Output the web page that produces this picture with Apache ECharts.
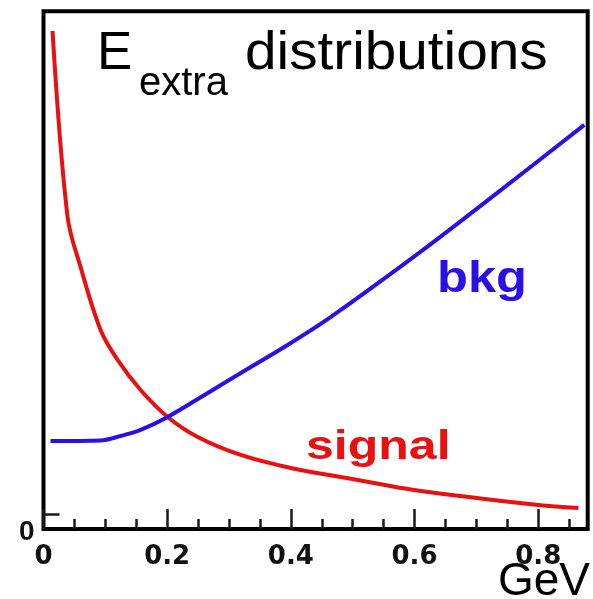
<!DOCTYPE html>
<html><head><meta charset="utf-8">
<script src="https://cdn.jsdelivr.net/npm/echarts@6/dist/echarts.min.js"></script>
<style>html,body{margin:0;padding:0;background:#fff}#c{width:593px;height:599px}</style>
</head><body><div id="c"></div>
<script>
// E_extra (GeV) vs arbitrary normalised yield
const signalX = [0.0146, 0.0389, 0.0599, 0.0923, 0.1198, 0.157, 0.2008, 0.2494, 0.319, 0.4, 0.5085, 0.599, 0.8, 0.865];
const signalY = [96.6, 59.4, 49.4, 36.8, 30.8, 24.8, 19.4, 15.4, 11.8, 9.2, 6.8, 4.8, 1.8, 1.2];
const bkgX = [0.0113, 0.0923, 0.1245, 0.157, 0.2008, 0.2656, 0.319, 0.4, 0.4648, 0.6138, 0.740, 0.8745];
const bkgY = [14.6, 14.7, 15.6, 16.8, 19.4, 24.2, 28.2, 34.2, 39.4, 52.8, 64.8, 77.8];
const xMajorTicks = [0, 0.2, 0.4, 0.6, 0.8];
const xMinorTicks = [0.05, 0.1, 0.15, 0.25, 0.3, 0.35, 0.45, 0.5, 0.55, 0.65, 0.7, 0.75, 0.85];
const yTicks = [0];

const chart = echarts.init(document.getElementById('c'), null, {renderer: 'canvas'});
const pairs = (xs, ys) => xs.map((x, i) => [x, ys[i]]);
const fam = '"Liberation Sans", Arial, sans-serif';

chart.setOption({
  animation: false,
  backgroundColor: '#fff',
  grid: {left: 43.5, right: 5.3, top: 11.3, bottom: 70, show: true,
         borderColor: '#000', borderWidth: 4, backgroundColor: 'transparent'},
  xAxis: [{
    type: 'value', min: 0, max: 0.88, position: 'bottom', offset: 0,
    axisLine: {show: false, onZero: false}, splitLine: {show: false},
    axisTick: {show: true, inside: true, length: 20, customValues: xMajorTicks,
               lineStyle: {color: '#1a1a1a', width: 2.5}},
    axisLabel: {show: true, customValues: xMajorTicks, margin: 15, verticalAlign: 'top',
                fontFamily: '"DejaVu Sans", sans-serif', fontWeight: 'bold', fontSize: 26, color: '#111',
                formatter: v => String(v)}
  }, {
    type: 'value', min: 0, max: 0.88, position: 'bottom', offset: 0,
    axisLine: {show: false, onZero: false}, splitLine: {show: false},
    axisTick: {show: true, inside: true, length: 10, customValues: xMinorTicks,
               lineStyle: {color: '#1a1a1a', width: 2.5}},
    axisLabel: {show: false}
  }],
  yAxis: {
    type: 'value', min: -3, max: 100.5,
    axisLine: {show: false, onZero: false}, splitLine: {show: false},
    axisTick: {show: true, inside: true, length: 16, customValues: yTicks,
               lineStyle: {color: '#1a1a1a', width: 2.5}},
    axisLabel: {show: true, customValues: yTicks, margin: 9, verticalAlign: 'top', lineHeight: 36,
                fontFamily: fam, fontWeight: 'bold', fontSize: 28, color: '#111'}
  },
  series: [{
    name: 'signal', type: 'line', data: pairs(signalX, signalY), showSymbol: false,
    smooth: 0.35, lineStyle: {color: '#e81010', width: 4}
  }, {
    name: 'bkg', type: 'line', data: pairs(bkgX, bkgY), showSymbol: false,
    smooth: 0.35, lineStyle: {color: '#2a0fe6', width: 4}
  }],
  graphic: [
    {type: 'text', x: 97, y: 54, style: {text: 'E', fontFamily: fam, fontSize: 53, fill: '#000', verticalAlign: 'middle'}},
    {type: 'text', x: 139, y: 84, style: {text: 'extra', fontFamily: fam, fontSize: 40, fill: '#000', verticalAlign: 'middle'}},
    {type: 'text', x: 245, y: 54.6, scaleX: 1.07, style: {text: 'distributions', fontFamily: fam, fontSize: 53, fill: '#000', verticalAlign: 'middle'}},
    {type: 'text', x: 437, y: 280, scaleX: 1.15, style: {text: 'bkg', fontFamily: fam, fontWeight: 'bold', fontSize: 44, fill: '#2a0fe6', verticalAlign: 'middle'}},
    {type: 'text', x: 306, y: 448, scaleX: 1.22, style: {text: 'signal', fontFamily: fam, fontWeight: 'bold', fontSize: 41, fill: '#e81010', verticalAlign: 'middle'}},
    {type: 'text', x: 498, y: 582, style: {text: 'GeV', fontFamily: fam, fontSize: 46, fill: '#000', verticalAlign: 'middle'}}
  ]
});
</script>
</body></html>
